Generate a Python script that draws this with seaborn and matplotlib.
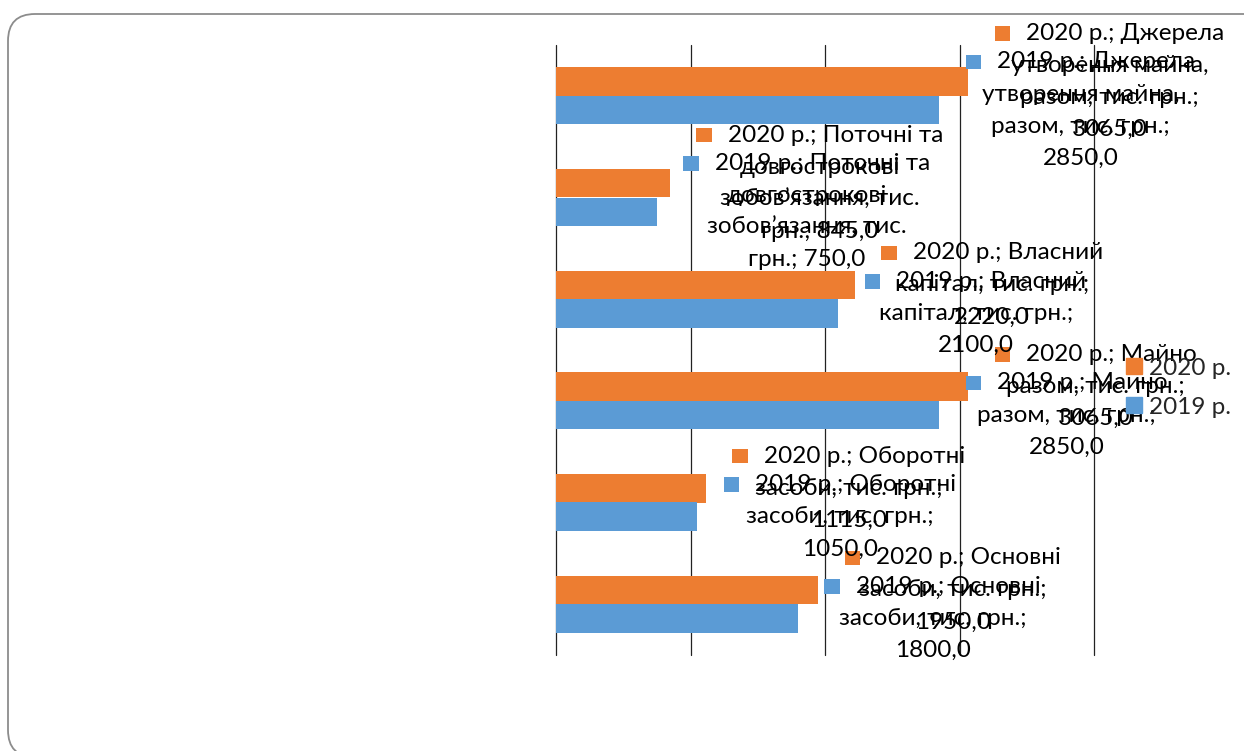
import matplotlib
matplotlib.use("Agg")
import matplotlib.pyplot as plt
import seaborn as sns
import pandas as pd
from matplotlib.patches import FancyBboxPatch, Rectangle
from matplotlib.lines import Line2D
from matplotlib.offsetbox import TextArea, DrawingArea, HPacker, VPacker, AnnotationBbox

# ---- data -------------------------------------------------------------
categories = [
    "Джерела утворення майна, разом, тис. грн.",
    "Поточні та довгострокові зобов’язання, тис. грн.",
    "Власний капітал, тис. грн.",
    "Майно разом, тис. грн.",
    "Оборотні засоби, тис. грн.",
    "Основні засоби, тис. грн.",
]
values_2020 = [3065.0, 845.0, 2220.0, 3065.0, 1115.0, 1950.0]
values_2019 = [2850.0, 750.0, 2100.0, 2850.0, 1050.0, 1800.0]
years = ["2020 р.", "2019 р."]
x_ticks = [0, 1000, 2000, 3000, 4000]

# data-label text, broken into lines the way the labels wrap
label_templates = [
    "{y}; Джерела\nутворення майна,\nразом, тис. грн.;\n{v}",
    "{y}; Поточні та\nдовгострокові\nзобов’язання, тис.\nгрн.; {v}",
    "{y}; Власний\nкапітал, тис. грн.;\n{v}",
    "{y}; Майно\nразом, тис. грн.;\n{v}",
    "{y}; Оборотні\nзасоби, тис. грн.;\n{v}",
    "{y}; Основні\nзасоби, тис. грн.;\n{v}",
]

colors = {"2020 р.": "#ED7D31", "2019 р.": "#5B9BD5"}

df = pd.DataFrame({
    "category": categories * 2,
    "year": [years[0]] * len(categories) + [years[1]] * len(categories),
    "value": values_2020 + values_2019,
})

# ---- style ------------------------------------------------------------
sns.set_theme(style="white")
plt.rcParams["font.family"] = ["Lato", "DejaVu Sans"]
FS = 17.5

W, H = 1244, 751
fig = plt.figure(figsize=(W / 100, H / 100), dpi=100)
fig.patch.set_facecolor("white")

# rounded slide frame
frame = FancyBboxPatch(
    (8 / W, -6 / H), 1.2, (H - 14 + 6) / H,
    boxstyle=f"round,pad=0,rounding_size={27 / W}",
    mutation_aspect=W / H,
    transform=fig.transFigure, fc="none", ec="#8c8c8c", lw=1.3, clip_on=False,
)
fig.patches.append(frame)

ax = fig.add_axes([556 / W, 96 / H, 538 / W, 610 / H])
sns.barplot(
    data=df, y="category", x="value", hue="year", order=categories,
    hue_order=years, palette=colors, orient="h", width=0.56,
    saturation=1, edgecolor="none", legend=False, ax=ax,
)
ax.set_xlim(x_ticks[0], x_ticks[-1])
ax.set_xticks(x_ticks)
ax.grid(axis="x", color="#222222", lw=0.9)
ax.grid(axis="y", visible=False)
ax.set_axisbelow(True)
for gl in ax.get_xgridlines():
    gl.set_clip_on(False)
ax.tick_params(length=0, labelbottom=False, labelleft=False)
ax.set_xlabel("")
ax.set_ylabel("")
for s in ax.spines.values():
    s.set_visible(False)


def fmt(v):
    return f"{v:.1f}".replace(".", ",")


def label_box(text, color):
    lines = text.split("\n")
    key = DrawingArea(11.2, 10.4, 0, 0)
    key.add_artist(Rectangle((0, 0), 11.2, 10.4, fc=color, ec="none"))
    first = HPacker(children=[key, TextArea(lines[0], textprops=dict(size=FS, color="black"))],
                    align="center", pad=0, sep=11.5)
    rows = [first] + [TextArea(t, textprops=dict(size=FS, color="black")) for t in lines[1:]]
    return VPacker(children=rows, align="center", pad=0, sep=8)


# data labels attached to each bar end
for year, cont in zip(years, ax.containers):
    vals = values_2020 if year == years[0] else values_2019
    for tmpl, v, bar in zip(label_templates, vals, cont.patches):
        yc = bar.get_y() + bar.get_height() / 2
        box = label_box(tmpl.format(y=year, v=fmt(v)), colors[year])
        ab = AnnotationBbox(box, (bar.get_width(), yc), xybox=(19, 0),
                            xycoords="data", boxcoords="offset points",
                            box_alignment=(0, 0.5), frameon=False, pad=0,
                            annotation_clip=False)
        ax.add_artist(ab)

handles = [Line2D([], [], marker="s", ls="", color=colors[y], markersize=11) for y in years]
fig.legend(handles, years, loc="center left", bbox_to_anchor=(1125 / W, 1 - 387.5 / H),
           frameon=False, fontsize=FS, labelspacing=0.74, handlelength=0.7,
           handletextpad=0.3, borderpad=0, borderaxespad=0)

fig.savefig("out.png", dpi=100)
